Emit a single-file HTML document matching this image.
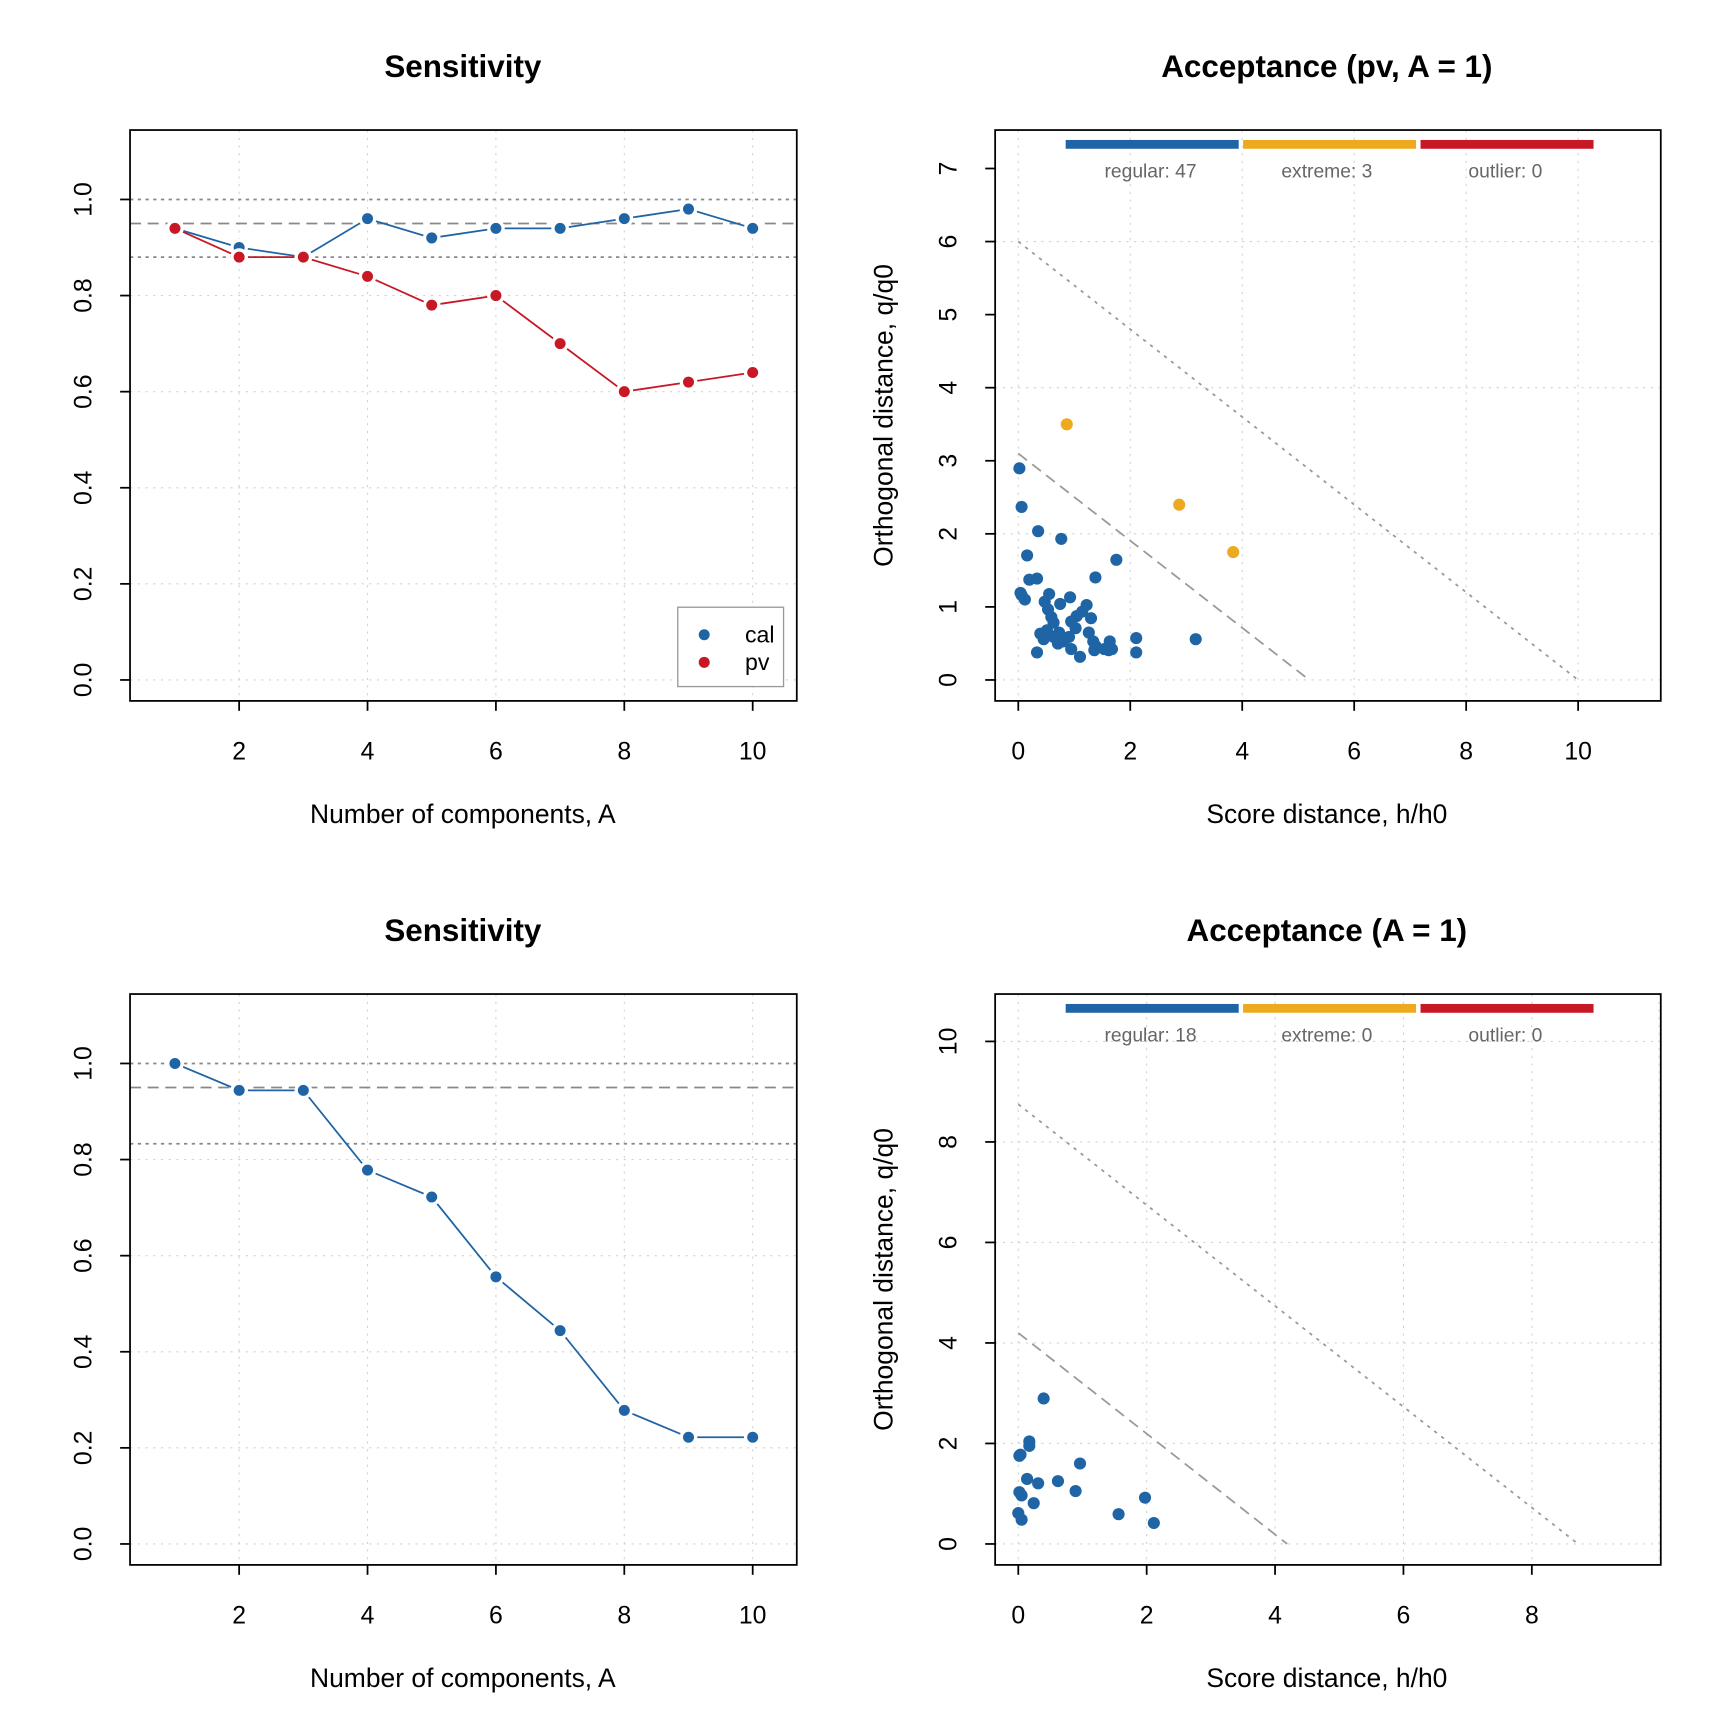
<!DOCTYPE html>
<html><head><meta charset="utf-8"><style>
html,body{margin:0;padding:0;background:#fff}
svg{display:block}
text{font-family:"Liberation Sans",Arial,sans-serif}
.al{font-size:24px}
</style></head><body>
<svg width="1728" height="1728" viewBox="0 0 1568 1568" xmlns="http://www.w3.org/2000/svg">
<rect width="1568" height="1568" fill="#fff"/>
<g font-size="22.5" fill="#000">
<!-- ========== TL ========== -->
<text x="420" y="70" text-anchor="middle" font-weight="bold" font-size="28.5">Sensitivity</text>
<g stroke="#d3d3d3" stroke-width="1" stroke-dasharray="2,5">
<line x1="217" y1="118" x2="217" y2="636"/><line x1="333.5" y1="118" x2="333.5" y2="636"/><line x1="450" y1="118" x2="450" y2="636"/><line x1="566.5" y1="118" x2="566.5" y2="636"/><line x1="683" y1="118" x2="683" y2="636"/>
<line x1="118" y1="617" x2="723" y2="617"/><line x1="118" y1="529.8" x2="723" y2="529.8"/><line x1="118" y1="442.6" x2="723" y2="442.6"/><line x1="118" y1="355.4" x2="723" y2="355.4"/><line x1="118" y1="268.2" x2="723" y2="268.2"/>
</g>
<g stroke="#888" stroke-width="1.6">
<line x1="118" y1="181" x2="723" y2="181" stroke-dasharray="3,4"/>
<line x1="118" y1="202.8" x2="723" y2="202.8" stroke-dasharray="10,6"/>
<line x1="118" y1="233.3" x2="723" y2="233.3" stroke-dasharray="3,4"/>
</g>
<polyline fill="none" stroke="#1f64a4" stroke-width="1.6" points="158.75,207.2 217,224.6 275.25,233.3 333.5,198.4 391.75,215.9 450,207.2 508.25,207.2 566.5,198.4 624.75,189.7 683,207.2"/>
<polyline fill="none" stroke="#c81826" stroke-width="1.6" points="158.75,207.2 217,233.3 275.25,233.3 333.5,250.8 391.75,276.9 450,268.2 508.25,311.8 566.5,355.4 624.75,346.7 683,338"/>
<g fill="#1f64a4" stroke="#fff" stroke-width="3">
<circle cx="217" cy="224.6" r="6.5"/><circle cx="275.25" cy="233.3" r="6.5"/><circle cx="333.5" cy="198.4" r="6.5"/><circle cx="391.75" cy="215.9" r="6.5"/><circle cx="450" cy="207.2" r="6.5"/><circle cx="508.25" cy="207.2" r="6.5"/><circle cx="566.5" cy="198.4" r="6.5"/><circle cx="624.75" cy="189.7" r="6.5"/><circle cx="683" cy="207.2" r="6.5"/>
</g>
<g fill="#c81826" stroke="#fff" stroke-width="3">
<circle cx="158.75" cy="207.2" r="6.5"/><circle cx="217" cy="233.3" r="6.5"/><circle cx="275.25" cy="233.3" r="6.5"/><circle cx="333.5" cy="250.8" r="6.5"/><circle cx="391.75" cy="276.9" r="6.5"/><circle cx="450" cy="268.2" r="6.5"/><circle cx="508.25" cy="311.8" r="6.5"/><circle cx="566.5" cy="355.4" r="6.5"/><circle cx="624.75" cy="346.7" r="6.5"/><circle cx="683" cy="338" r="6.5"/>
</g>
<rect x="615" y="551" width="96" height="72" fill="#fff" stroke="#999" stroke-width="1.2"/>
<circle cx="639" cy="576" r="5" fill="#1f64a4"/><circle cx="639" cy="601" r="5" fill="#c81826"/>
<text x="676" y="583" font-size="21">cal</text><text x="676" y="608" font-size="21">pv</text>
<rect x="118" y="118" width="605" height="518" fill="none" stroke="#000" stroke-width="1.6"/>
<g stroke="#000" stroke-width="1.6">
<line x1="217" y1="636" x2="217" y2="645"/><line x1="333.5" y1="636" x2="333.5" y2="645"/><line x1="450" y1="636" x2="450" y2="645"/><line x1="566.5" y1="636" x2="566.5" y2="645"/><line x1="683" y1="636" x2="683" y2="645"/>
<line x1="109" y1="617" x2="118" y2="617"/><line x1="109" y1="529.8" x2="118" y2="529.8"/><line x1="109" y1="442.6" x2="118" y2="442.6"/><line x1="109" y1="355.4" x2="118" y2="355.4"/><line x1="109" y1="268.2" x2="118" y2="268.2"/><line x1="109" y1="181" x2="118" y2="181"/>
</g>
<g text-anchor="middle">
<text x="217" y="689">2</text><text x="333.5" y="689">4</text><text x="450" y="689">6</text><text x="566.5" y="689">8</text><text x="683" y="689">10</text>
<text transform="translate(83,617) rotate(-90)">0.0</text><text transform="translate(83,529.8) rotate(-90)">0.2</text><text transform="translate(83,442.6) rotate(-90)">0.4</text><text transform="translate(83,355.4) rotate(-90)">0.6</text><text transform="translate(83,268.2) rotate(-90)">0.8</text><text transform="translate(83,181) rotate(-90)">1.0</text>
<text class="al" x="420" y="747">Number of components, A</text>
</g>

<!-- ========== TR ========== -->
<text x="1204" y="70" text-anchor="middle" font-weight="bold" font-size="28.5">Acceptance (pv, A = 1)</text>
<g stroke="#d3d3d3" stroke-width="1" stroke-dasharray="2,5">
<line x1="924" y1="118" x2="924" y2="636"/><line x1="1025.6" y1="118" x2="1025.6" y2="636"/><line x1="1127.2" y1="118" x2="1127.2" y2="636"/><line x1="1228.8" y1="118" x2="1228.8" y2="636"/><line x1="1330.4" y1="118" x2="1330.4" y2="636"/><line x1="1432" y1="118" x2="1432" y2="636"/>
<line x1="903" y1="617" x2="1507" y2="617"/><line x1="903" y1="484.4" x2="1507" y2="484.4"/><line x1="903" y1="351.8" x2="1507" y2="351.8"/><line x1="903" y1="219.2" x2="1507" y2="219.2"/>
</g>
<line x1="924" y1="411.5" x2="1188" y2="617" stroke="#999" stroke-width="1.6" stroke-dasharray="10,6"/>
<line x1="924" y1="219.2" x2="1432" y2="617" stroke="#999" stroke-width="1.6" stroke-dasharray="3,5"/>
<rect x="967" y="127" width="157" height="8" fill="#1f64a4"/><rect x="1128" y="127" width="157" height="8" fill="#eeaa1e"/><rect x="1289" y="127" width="157" height="8" fill="#c81826"/>
<g font-size="17.5" fill="#666" text-anchor="middle"><text x="1044" y="161">regular: 47</text><text x="1204" y="161">extreme: 3</text><text x="1366" y="161">outlier: 0</text></g>
<g fill="#eeaa1e"><circle cx="968" cy="385" r="5.5"/><circle cx="1070" cy="458" r="5.5"/><circle cx="1119" cy="501" r="5.5"/></g>
<g fill="#1f64a4">
<circle cx="925" cy="425" r="5.5"/><circle cx="927" cy="460" r="5.5"/><circle cx="942" cy="482" r="5.5"/><circle cx="963" cy="489" r="5.5"/><circle cx="932" cy="504" r="5.5"/><circle cx="1013" cy="508" r="5.5"/><circle cx="934" cy="526" r="5.5"/><circle cx="941" cy="525" r="5.5"/><circle cx="994" cy="524" r="5.5"/><circle cx="927" cy="540" r="5.5"/><circle cx="930" cy="544" r="5.5"/><circle cx="926" cy="538" r="5.5"/><circle cx="952" cy="539" r="5.5"/><circle cx="971" cy="542" r="5.5"/><circle cx="962" cy="548" r="5.5"/><circle cx="986" cy="549" r="5.5"/><circle cx="948" cy="546" r="5.5"/><circle cx="951" cy="553" r="5.5"/><circle cx="982" cy="555" r="5.5"/><circle cx="977" cy="559" r="5.5"/><circle cx="954" cy="560" r="5.5"/><circle cx="990" cy="561" r="5.5"/><circle cx="972" cy="564" r="5.5"/><circle cx="956" cy="565" r="5.5"/><circle cx="976" cy="570" r="5.5"/><circle cx="950" cy="572" r="5.5"/><circle cx="961" cy="574" r="5.5"/><circle cx="944" cy="575" r="5.5"/><circle cx="988" cy="574" r="5.5"/><circle cx="956" cy="578" r="5.5"/><circle cx="970" cy="578" r="5.5"/><circle cx="965" cy="582" r="5.5"/><circle cx="992" cy="582" r="5.5"/><circle cx="947" cy="580" r="5.5"/><circle cx="1007" cy="582" r="5.5"/><circle cx="960" cy="584" r="5.5"/><circle cx="1031" cy="579" r="5.5"/><circle cx="1085" cy="580" r="5.5"/><circle cx="941" cy="592" r="5.5"/><circle cx="972" cy="589" r="5.5"/><circle cx="993" cy="590" r="5.5"/><circle cx="1006" cy="590" r="5.5"/><circle cx="1009" cy="589" r="5.5"/><circle cx="1031" cy="592" r="5.5"/><circle cx="980" cy="596" r="5.5"/><circle cx="994" cy="586" r="5.5"/><circle cx="1002" cy="589" r="5.5"/>
</g>
<rect x="903" y="118" width="604" height="518" fill="none" stroke="#000" stroke-width="1.6"/>
<g stroke="#000" stroke-width="1.6">
<line x1="924" y1="636" x2="924" y2="645"/><line x1="1025.6" y1="636" x2="1025.6" y2="645"/><line x1="1127.2" y1="636" x2="1127.2" y2="645"/><line x1="1228.8" y1="636" x2="1228.8" y2="645"/><line x1="1330.4" y1="636" x2="1330.4" y2="645"/><line x1="1432" y1="636" x2="1432" y2="645"/>
<line x1="894" y1="617" x2="903" y2="617"/><line x1="894" y1="550.7" x2="903" y2="550.7"/><line x1="894" y1="484.4" x2="903" y2="484.4"/><line x1="894" y1="418.1" x2="903" y2="418.1"/><line x1="894" y1="351.8" x2="903" y2="351.8"/><line x1="894" y1="285.5" x2="903" y2="285.5"/><line x1="894" y1="219.2" x2="903" y2="219.2"/><line x1="894" y1="152.9" x2="903" y2="152.9"/>
</g>
<g text-anchor="middle">
<text x="924" y="689">0</text><text x="1025.6" y="689">2</text><text x="1127.2" y="689">4</text><text x="1228.8" y="689">6</text><text x="1330.4" y="689">8</text><text x="1432" y="689">10</text>
<text transform="translate(868,617) rotate(-90)">0</text><text transform="translate(868,550.7) rotate(-90)">1</text><text transform="translate(868,484.4) rotate(-90)">2</text><text transform="translate(868,418.1) rotate(-90)">3</text><text transform="translate(868,351.8) rotate(-90)">4</text><text transform="translate(868,285.5) rotate(-90)">5</text><text transform="translate(868,219.2) rotate(-90)">6</text><text transform="translate(868,152.9) rotate(-90)">7</text>
<text class="al" x="1204" y="747">Score distance, h/h0</text>
<text class="al" transform="translate(810,377) rotate(-90)">Orthogonal distance, q/q0</text>
</g>

<!-- ========== BL ========== -->
<text x="420" y="854" text-anchor="middle" font-weight="bold" font-size="28.5">Sensitivity</text>
<g stroke="#d3d3d3" stroke-width="1" stroke-dasharray="2,5">
<line x1="217" y1="902" x2="217" y2="1420"/><line x1="333.5" y1="902" x2="333.5" y2="1420"/><line x1="450" y1="902" x2="450" y2="1420"/><line x1="566.5" y1="902" x2="566.5" y2="1420"/><line x1="683" y1="902" x2="683" y2="1420"/>
<line x1="118" y1="1401" x2="723" y2="1401"/><line x1="118" y1="1313.8" x2="723" y2="1313.8"/><line x1="118" y1="1226.6" x2="723" y2="1226.6"/><line x1="118" y1="1139.4" x2="723" y2="1139.4"/><line x1="118" y1="1052.2" x2="723" y2="1052.2"/>
</g>
<g stroke="#888" stroke-width="1.6">
<line x1="118" y1="965" x2="723" y2="965" stroke-dasharray="3,4"/>
<line x1="118" y1="986.8" x2="723" y2="986.8" stroke-dasharray="10,6"/>
<line x1="118" y1="1037.8" x2="723" y2="1037.8" stroke-dasharray="3,4"/>
</g>
<polyline fill="none" stroke="#1f64a4" stroke-width="1.6" points="158.75,965 217,989.4 275.25,989.4 333.5,1061.8 391.75,1086.2 450,1158.6 508.25,1207.4 566.5,1279.8 624.75,1304.2 683,1304.2"/>
<g fill="#1f64a4" stroke="#fff" stroke-width="3">
<circle cx="158.75" cy="965" r="6.5"/><circle cx="217" cy="989.4" r="6.5"/><circle cx="275.25" cy="989.4" r="6.5"/><circle cx="333.5" cy="1061.8" r="6.5"/><circle cx="391.75" cy="1086.2" r="6.5"/><circle cx="450" cy="1158.6" r="6.5"/><circle cx="508.25" cy="1207.4" r="6.5"/><circle cx="566.5" cy="1279.8" r="6.5"/><circle cx="624.75" cy="1304.2" r="6.5"/><circle cx="683" cy="1304.2" r="6.5"/>
</g>
<rect x="118" y="902" width="605" height="518" fill="none" stroke="#000" stroke-width="1.6"/>
<g stroke="#000" stroke-width="1.6">
<line x1="217" y1="1420" x2="217" y2="1429"/><line x1="333.5" y1="1420" x2="333.5" y2="1429"/><line x1="450" y1="1420" x2="450" y2="1429"/><line x1="566.5" y1="1420" x2="566.5" y2="1429"/><line x1="683" y1="1420" x2="683" y2="1429"/>
<line x1="109" y1="1401" x2="118" y2="1401"/><line x1="109" y1="1313.8" x2="118" y2="1313.8"/><line x1="109" y1="1226.6" x2="118" y2="1226.6"/><line x1="109" y1="1139.4" x2="118" y2="1139.4"/><line x1="109" y1="1052.2" x2="118" y2="1052.2"/><line x1="109" y1="965" x2="118" y2="965"/>
</g>
<g text-anchor="middle">
<text x="217" y="1473">2</text><text x="333.5" y="1473">4</text><text x="450" y="1473">6</text><text x="566.5" y="1473">8</text><text x="683" y="1473">10</text>
<text transform="translate(83,1401) rotate(-90)">0.0</text><text transform="translate(83,1313.8) rotate(-90)">0.2</text><text transform="translate(83,1226.6) rotate(-90)">0.4</text><text transform="translate(83,1139.4) rotate(-90)">0.6</text><text transform="translate(83,1052.2) rotate(-90)">0.8</text><text transform="translate(83,965) rotate(-90)">1.0</text>
<text class="al" x="420" y="1531">Number of components, A</text>
</g>

<!-- ========== BR ========== -->
<text x="1204" y="854" text-anchor="middle" font-weight="bold" font-size="28.5">Acceptance (A = 1)</text>
<g stroke="#d3d3d3" stroke-width="1" stroke-dasharray="2,5">
<line x1="924" y1="902" x2="924" y2="1420"/><line x1="1040.5" y1="902" x2="1040.5" y2="1420"/><line x1="1157" y1="902" x2="1157" y2="1420"/><line x1="1273.5" y1="902" x2="1273.5" y2="1420"/><line x1="1390" y1="902" x2="1390" y2="1420"/><line x1="1505.5" y1="902" x2="1505.5" y2="1420"/>
<line x1="903" y1="1401" x2="1507" y2="1401"/><line x1="903" y1="1309.8" x2="1507" y2="1309.8"/><line x1="903" y1="1218.6" x2="1507" y2="1218.6"/><line x1="903" y1="1127.4" x2="1507" y2="1127.4"/><line x1="903" y1="1036.2" x2="1507" y2="1036.2"/><line x1="903" y1="945" x2="1507" y2="945"/>
</g>
<line x1="924" y1="1209.5" x2="1168" y2="1401" stroke="#999" stroke-width="1.6" stroke-dasharray="10,6"/>
<line x1="924" y1="1002" x2="1432" y2="1401" stroke="#999" stroke-width="1.6" stroke-dasharray="3,5"/>
<rect x="967" y="911" width="157" height="8" fill="#1f64a4"/><rect x="1128" y="911" width="157" height="8" fill="#eeaa1e"/><rect x="1289" y="911" width="157" height="8" fill="#c81826"/>
<g font-size="17.5" fill="#666" text-anchor="middle"><text x="1044" y="945">regular: 18</text><text x="1204" y="945">extreme: 0</text><text x="1366" y="945">outlier: 0</text></g>
<g fill="#1f64a4">
<circle cx="925" cy="1321" r="5.5"/><circle cx="926" cy="1320" r="5.5"/><circle cx="934" cy="1308" r="5.5"/><circle cx="934" cy="1312" r="5.5"/><circle cx="947" cy="1269" r="5.5"/><circle cx="980" cy="1328" r="5.5"/><circle cx="932" cy="1342" r="5.5"/><circle cx="942" cy="1346" r="5.5"/><circle cx="960" cy="1344" r="5.5"/><circle cx="925" cy="1354" r="5.5"/><circle cx="927" cy="1357" r="5.5"/><circle cx="976" cy="1353" r="5.5"/><circle cx="938" cy="1364" r="5.5"/><circle cx="1039" cy="1359" r="5.5"/><circle cx="1015" cy="1374" r="5.5"/><circle cx="924" cy="1373" r="5.5"/><circle cx="927" cy="1379" r="5.5"/><circle cx="1047" cy="1382" r="5.5"/>
</g>
<rect x="903" y="902" width="604" height="518" fill="none" stroke="#000" stroke-width="1.6"/>
<g stroke="#000" stroke-width="1.6">
<line x1="924" y1="1420" x2="924" y2="1429"/><line x1="1040.5" y1="1420" x2="1040.5" y2="1429"/><line x1="1157" y1="1420" x2="1157" y2="1429"/><line x1="1273.5" y1="1420" x2="1273.5" y2="1429"/><line x1="1390" y1="1420" x2="1390" y2="1429"/>
<line x1="894" y1="1401" x2="903" y2="1401"/><line x1="894" y1="1309.8" x2="903" y2="1309.8"/><line x1="894" y1="1218.6" x2="903" y2="1218.6"/><line x1="894" y1="1127.4" x2="903" y2="1127.4"/><line x1="894" y1="1036.2" x2="903" y2="1036.2"/><line x1="894" y1="945" x2="903" y2="945"/>
</g>
<g text-anchor="middle">
<text x="924" y="1473">0</text><text x="1040.5" y="1473">2</text><text x="1157" y="1473">4</text><text x="1273.5" y="1473">6</text><text x="1390" y="1473">8</text>
<text transform="translate(868,1401) rotate(-90)">0</text><text transform="translate(868,1309.8) rotate(-90)">2</text><text transform="translate(868,1218.6) rotate(-90)">4</text><text transform="translate(868,1127.4) rotate(-90)">6</text><text transform="translate(868,1036.2) rotate(-90)">8</text><text transform="translate(868,945) rotate(-90)">10</text>
<text class="al" x="1204" y="1531">Score distance, h/h0</text>
<text class="al" transform="translate(810,1161) rotate(-90)">Orthogonal distance, q/q0</text>
</g>
</g>
</svg>
</body></html>
